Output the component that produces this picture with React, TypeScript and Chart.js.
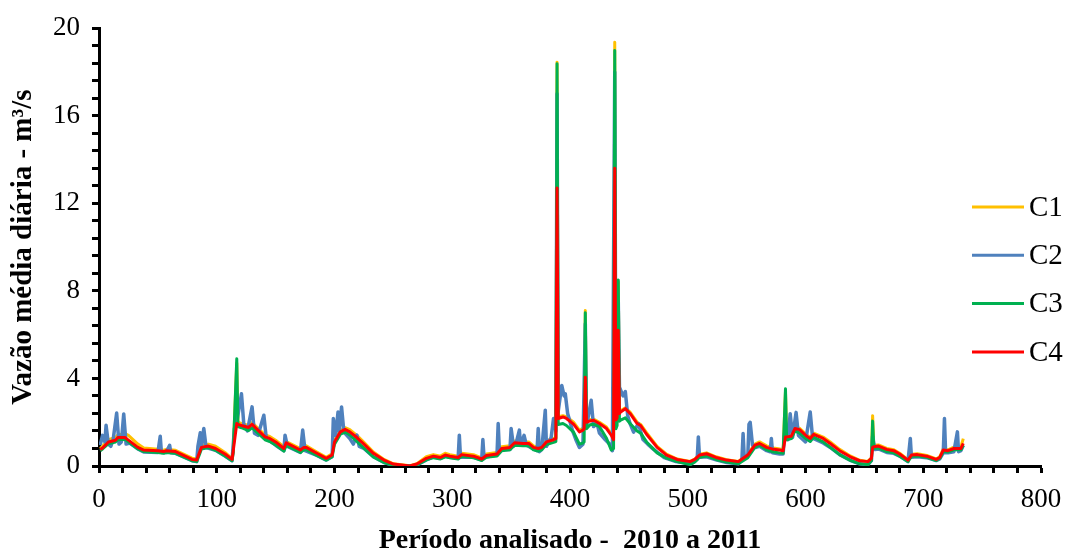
import React, { useEffect, useRef } from "react";
import { Chart, registerables } from "chart.js";

Chart.register(...registerables);

// Shared day index for the smooth series C1, C3, C4
const DAYS_SMOOTH = [
  1, 3, 8, 14, 16, 22, 25, 33, 38, 50,
  55, 57, 65, 79, 83, 85, 87, 93, 99, 107,
  113, 114, 117, 118, 121, 127, 130, 135, 141, 145,
  150, 157, 159, 171, 174, 176, 185, 193, 198, 200,
  205, 209, 213, 219, 225, 233, 242, 250, 264, 270,
  278, 284, 290, 294, 298, 305, 308, 318, 325, 329,
  338, 342, 349, 353, 360, 365, 369, 373, 376, 380,
  386, 388, 389, 390, 394, 397, 403, 408, 411, 412,
  413, 414, 417, 420, 425, 431, 435, 437, 438, 439,
  440, 441, 442, 443, 447, 451, 457, 460, 465, 474,
  482, 491, 502, 506, 510, 516, 524, 533, 543, 547,
  551, 557, 561, 567, 573, 578, 581, 583, 584, 588,
  591, 595, 601, 604, 607, 615, 621, 629, 638, 646,
  653, 656, 657, 658, 662, 669, 675, 680, 687, 690,
  695, 703, 711, 714, 717, 721, 726, 732, 734,
];

const C1_VALUES = [
  0.80, 0.90, 1.20, 1.30, 1.42, 1.48, 1.40, 1.00, 0.82, 0.76,
  0.72, 0.76, 0.72, 0.36, 0.32, 0.62, 0.95, 1.00, 0.90, 0.62,
  0.34, 0.75, 4.70, 2.00, 1.95, 1.85, 1.98, 1.72, 1.42, 1.35,
  1.18, 0.88, 1.12, 0.80, 0.92, 0.92, 0.64, 0.40, 0.56, 1.18,
  1.62, 1.75, 1.66, 1.40, 1.08, 0.64, 0.30, 0.10, 0.01, 0.11,
  0.42, 0.52, 0.45, 0.58, 0.52, 0.45, 0.58, 0.52, 0.37, 0.55,
  0.62, 0.88, 0.92, 1.14, 1.10, 1.10, 0.92, 0.86, 0.92, 1.16,
  1.26, 1.30, 18.45, 2.25, 2.30, 2.25, 2.00, 1.64, 1.72, 1.78,
  7.10, 2.05, 2.12, 2.14, 2.00, 1.78, 1.48, 1.26, 19.36, 2.15,
  2.25, 8.40, 2.45, 2.52, 2.66, 2.46, 2.00, 1.90, 1.52, 0.90,
  0.54, 0.32, 0.21, 0.32, 0.54, 0.60, 0.42, 0.29, 0.21, 0.37,
  0.54, 1.00, 1.10, 0.92, 0.82, 0.78, 0.74, 3.40, 1.38, 1.42,
  1.76, 1.72, 1.42, 1.32, 1.50, 1.32, 1.10, 0.76, 0.46, 0.26,
  0.21, 0.38, 2.30, 0.95, 0.96, 0.80, 0.74, 0.58, 0.29, 0.54,
  0.56, 0.48, 0.32, 0.42, 0.78, 0.74, 0.86, 0.88, 1.25,
];

const C3_VALUES = [
  0.70, 0.78, 1.02, 1.10, 1.20, 1.22, 1.10, 0.78, 0.66, 0.62,
  0.58, 0.62, 0.58, 0.24, 0.20, 0.48, 0.78, 0.84, 0.72, 0.46,
  0.24, 0.62, 4.90, 1.80, 1.75, 1.62, 1.75, 1.50, 1.20, 1.12,
  0.96, 0.68, 0.94, 0.62, 0.74, 0.74, 0.48, 0.27, 0.42, 1.00,
  1.45, 1.55, 1.42, 1.12, 0.82, 0.42, 0.16, 0.03, 0.00, 0.05,
  0.28, 0.38, 0.32, 0.42, 0.38, 0.32, 0.44, 0.38, 0.25, 0.40,
  0.46, 0.70, 0.74, 0.95, 0.92, 0.92, 0.74, 0.68, 0.74, 0.98,
  1.08, 1.12, 18.38, 1.90, 1.94, 1.85, 1.55, 1.00, 1.05, 1.10,
  7.00, 1.70, 1.88, 1.91, 1.80, 1.27, 0.73, 0.80, 18.98, 1.70,
  1.85, 8.50, 2.05, 2.10, 2.20, 1.94, 1.60, 1.50, 1.10, 0.60,
  0.36, 0.20, 0.06, 0.18, 0.40, 0.46, 0.30, 0.18, 0.10, 0.24,
  0.38, 0.85, 0.95, 0.74, 0.64, 0.60, 0.58, 3.53, 1.20, 1.25,
  1.60, 1.50, 1.22, 1.12, 1.32, 1.10, 0.85, 0.52, 0.26, 0.10,
  0.06, 0.25, 2.05, 0.80, 0.82, 0.66, 0.60, 0.45, 0.20, 0.44,
  0.46, 0.40, 0.25, 0.34, 0.66, 0.64, 0.74, 0.74, 0.95,
];

const C4_VALUES = [
  0.75, 0.82, 1.10, 1.18, 1.30, 1.30, 1.18, 0.85, 0.73, 0.70,
  0.66, 0.70, 0.66, 0.30, 0.27, 0.57, 0.85, 0.91, 0.80, 0.55,
  0.30, 0.70, 1.94, 1.90, 1.85, 1.76, 1.90, 1.64, 1.33, 1.26,
  1.10, 0.80, 1.06, 0.73, 0.85, 0.85, 0.58, 0.35, 0.50, 1.10,
  1.56, 1.67, 1.56, 1.30, 1.00, 0.58, 0.27, 0.09, 0.00, 0.09,
  0.35, 0.45, 0.39, 0.50, 0.45, 0.39, 0.52, 0.45, 0.32, 0.48,
  0.55, 0.80, 0.85, 1.06, 1.03, 1.03, 0.85, 0.80, 0.85, 1.10,
  1.20, 1.25, 12.70, 2.17, 2.24, 2.17, 1.91, 1.56, 1.64, 1.70,
  4.06, 2.00, 2.06, 2.09, 1.94, 1.71, 1.41, 1.20, 13.60, 2.10,
  2.20, 6.20, 2.40, 2.47, 2.62, 2.40, 1.94, 1.85, 1.45, 0.85,
  0.50, 0.30, 0.20, 0.30, 0.50, 0.56, 0.39, 0.27, 0.20, 0.35,
  0.50, 0.95, 1.03, 0.85, 0.76, 0.73, 0.70, 1.33, 1.33, 1.36,
  1.71, 1.66, 1.36, 1.26, 1.45, 1.26, 1.03, 0.70, 0.42, 0.24,
  0.20, 0.35, 0.85, 0.88, 0.91, 0.76, 0.70, 0.55, 0.27, 0.50,
  0.52, 0.45, 0.30, 0.39, 0.73, 0.70, 0.80, 0.80, 1.03,
];

// C2 is spikier and has its own day index
const C2_DAYS = [
  1, 3, 5, 6, 8, 10, 12, 15, 17, 19,
  21, 23, 26, 33, 38, 50, 52, 53, 57, 60,
  61, 65, 79, 83, 84, 86, 87, 89, 91, 99,
  107, 113, 115, 117, 121, 123, 126, 130, 132, 135,
  140, 142, 145, 150, 157, 158, 160, 171, 173, 175,
  185, 193, 198, 199, 201, 203, 204, 206, 208, 213,
  216, 219, 221, 225, 233, 242, 250, 264, 270, 278,
  284, 290, 294, 298, 305, 306, 307, 318, 325, 326,
  327, 338, 339, 340, 349, 350, 352, 354, 357, 358,
  361, 363, 369, 372, 373, 374, 376, 379, 380, 384,
  386, 388, 389, 390, 393, 395, 396, 398, 402, 405,
  408, 411, 413, 414, 418, 420, 423, 425, 430, 434,
  436, 438, 439, 441, 442, 445, 447, 449, 451, 454,
  458, 462, 466, 471, 480, 490, 503, 508, 509, 510,
  516, 524, 533, 543, 546, 547, 548, 551, 552, 553,
  555, 558, 561, 567, 570, 571, 572, 578, 581, 583,
  585, 587, 589, 592, 594, 600, 604, 606, 607, 615,
  621, 629, 638, 646, 653, 656, 657, 659, 662, 669,
  675, 680, 687, 689, 690, 695, 703, 711, 714, 717,
  718, 719, 721, 726, 729, 730, 732, 734,
];

const C2_VALUES = [
  0.95, 1.40, 1.10, 1.86, 1.00, 0.90, 1.20, 2.42, 1.00, 1.10,
  2.38, 1.00, 1.05, 0.78, 0.64, 0.62, 1.36, 0.62, 0.62, 0.95,
  0.60, 0.58, 0.24, 0.20, 0.90, 1.52, 0.85, 1.71, 0.84, 0.72,
  0.46, 0.24, 1.71, 2.00, 3.30, 1.90, 1.60, 2.70, 1.50, 1.40,
  2.32, 1.30, 1.15, 0.95, 0.70, 1.41, 0.90, 0.62, 1.64, 0.70,
  0.48, 0.27, 0.42, 2.17, 1.40, 2.47, 1.60, 2.70, 1.55, 1.25,
  1.00, 1.41, 0.90, 0.80, 0.42, 0.16, 0.03, 0.00, 0.05, 0.28,
  0.42, 0.35, 0.45, 0.40, 0.35, 1.41, 0.40, 0.40, 0.28, 1.21,
  0.40, 0.50, 1.94, 0.75, 0.75, 1.71, 0.90, 1.00, 1.64, 0.95,
  1.40, 0.95, 0.78, 0.70, 1.71, 0.65, 0.75, 2.55, 0.90, 1.30,
  2.17, 1.60, 17.00, 2.50, 3.68, 3.20, 3.30, 2.40, 1.64, 1.20,
  0.85, 1.00, 6.50, 1.80, 3.00, 1.80, 1.94, 1.50, 1.20, 0.98,
  0.70, 18.00, 2.00, 7.50, 3.60, 3.20, 3.40, 2.30, 1.94, 1.55,
  1.94, 1.21, 1.00, 0.76, 0.38, 0.20, 0.10, 0.30, 1.33, 0.40,
  0.42, 0.28, 0.16, 0.10, 0.30, 1.48, 0.40, 0.45, 1.90, 2.00,
  0.95, 0.85, 0.90, 0.70, 0.65, 1.26, 0.60, 0.55, 0.55, 2.00,
  1.20, 2.39, 1.30, 2.45, 1.40, 1.10, 2.47, 1.30, 1.25, 1.05,
  0.85, 0.52, 0.26, 0.10, 0.06, 0.25, 1.35, 0.75, 0.78, 0.62,
  0.58, 0.45, 0.20, 1.26, 0.40, 0.42, 0.38, 0.25, 0.32, 0.60,
  2.17, 0.60, 0.60, 0.65, 1.56, 0.65, 0.70, 0.95,
];

const SERIES_LABELS = ["C1", "C2", "C3", "C4"];
const SERIES_COLORS = ["#FFC000", "#4F81BD", "#00B050", "#FF0000"];
const X_TITLE = "Período analisado -  2010 a 2011";
const Y_TITLE = "Vazão média diária - m³/s";

const FONT = "'Liberation Serif', 'Times New Roman', serif";

function toPoints(days: number[], values: number[]) {
  return days.map((d, i) => ({ x: d, y: values[i] }));
}

const sideLegend = {
  id: "sideLegend",
  afterDraw(chart: any) {
    const ctx = chart.ctx;
    ctx.save();
    ctx.font = `29px ${FONT}`;
    ctx.textBaseline = "middle";
    ctx.textAlign = "left";
    SERIES_LABELS.forEach((label, i) => {
      const y = 207 + i * 48.3;
      ctx.strokeStyle = SERIES_COLORS[i];
      ctx.lineWidth = 3;
      ctx.beginPath();
      ctx.moveTo(972, y);
      ctx.lineTo(1024, y);
      ctx.stroke();
      ctx.fillStyle = "#000";
      ctx.fillText(label, 1029, y + 1);
    });
    ctx.restore();
  },
};

export default function App() {
  const ref = useRef<HTMLCanvasElement | null>(null);

  useEffect(() => {
    if (!ref.current) return;
    const seriesData = [
      toPoints(DAYS_SMOOTH, C1_VALUES),
      toPoints(C2_DAYS, C2_VALUES),
      toPoints(DAYS_SMOOTH, C3_VALUES),
      toPoints(DAYS_SMOOTH, C4_VALUES),
    ];
    const widths = [3, 3.5, 3, 3];
    const chart = new Chart(ref.current, {
      type: "line",
      data: {
        datasets: SERIES_LABELS.map((label, i) => ({
          label,
          data: seriesData[i],
          borderColor: SERIES_COLORS[i],
          backgroundColor: SERIES_COLORS[i],
          borderWidth: widths[i],
          pointRadius: 0,
          tension: 0,
          borderJoinStyle: "round" as const,
          order: 4 - i,
        })),
      },
      options: {
        animation: false,
        responsive: false,
        devicePixelRatio: 1,
        layout: { padding: { left: 0, top: 26, right: 32, bottom: 0 } },
        plugins: {
          legend: { display: false },
          tooltip: { enabled: false },
        },
        scales: {
          x: {
            type: "linear",
            min: 0,
            max: 800,
            afterFit: (s: any) => {
              s.height = 89;
            },
            ticks: {
              stepSize: 20,
              autoSkip: false,
              maxRotation: 0,
              minRotation: 0,
              padding: 11,
              color: "#000",
              font: { family: FONT, size: 27 },
              callback: (v: any) => {
                const r = Math.round(Number(v) / 100) * 100;
                return Math.abs(Number(v) - r) < 1e-6 ? String(r) : "";
              },
            },
            grid: {
              drawOnChartArea: false,
              drawTicks: true,
              tickLength: 7,
              tickColor: "#000",
              tickWidth: 3,
            },
            border: { display: true, color: "#000", width: 3 },
            title: {
              display: true,
              text: X_TITLE,
              color: "#000",
              font: { family: FONT, size: 28, weight: "bold", lineHeight: 1 },
              padding: { top: 0, bottom: 0 },
            },
          },
          y: {
            type: "linear",
            min: 0,
            max: 20,
            afterFit: (s: any) => {
              s.width = 99;
            },
            ticks: {
              stepSize: 0.8,
              autoSkip: false,
              padding: 12,
              color: "#000",
              font: { family: FONT, size: 27 },
              callback: (v: any) => {
                const r = Math.round(Number(v) / 4) * 4;
                return Math.abs(Number(v) - r) < 1e-6 ? String(r) : "";
              },
            },
            grid: {
              drawOnChartArea: false,
              drawTicks: true,
              tickLength: 7,
              tickColor: "#000",
              tickWidth: 3,
            },
            border: { display: true, color: "#000", width: 3 },
            title: {
              display: true,
              text: Y_TITLE,
              color: "#000",
              font: { family: FONT, size: 29, weight: "bold", lineHeight: 1 },
              padding: { top: 9, bottom: 0 },
            },
          },
        },
      },
      plugins: [sideLegend],
    });
    return () => chart.destroy();
  }, []);

  return (
    <div style={{ position: "fixed", left: 0, top: 0, width: 1073, height: 555, background: "#fff" }}>
      <canvas ref={ref} width={1073} height={555} />
    </div>
  );
}
